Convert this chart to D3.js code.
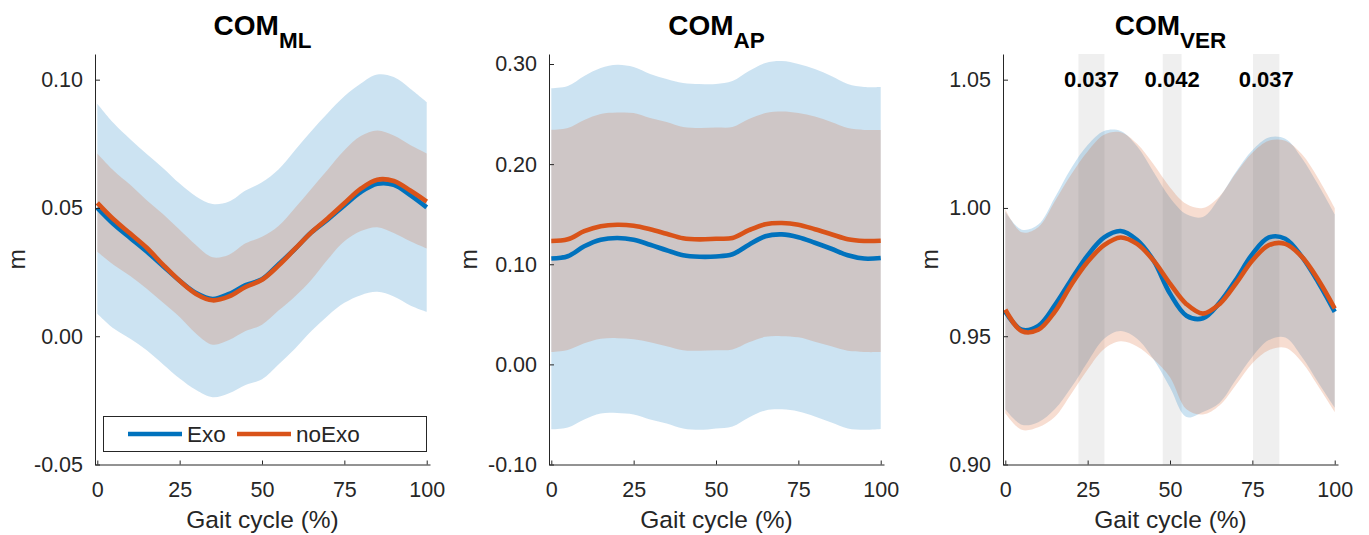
<!DOCTYPE html>
<html>
<head>
<meta charset="utf-8">
<script src="https://cdn.jsdelivr.net/npm/d3@7"></script>
<style>
  body { margin: 0; background: #fff; }
  svg { display: block; font-family: "Liberation Sans", Arial, Helvetica, sans-serif; }
</style>
</head>
<body>
<script>
// gait cycle samples (%)
const gait = [0, 5, 10, 15, 20, 25, 30, 35, 40, 45, 50, 55, 60, 65, 70, 75, 80, 85, 90, 95, 100];

// COM medio-lateral (m)
const mlExoMean   = [0.0500, 0.0436, 0.0383, 0.0330, 0.0273, 0.0216, 0.0168, 0.0145, 0.0165, 0.0199, 0.0222, 0.0280, 0.0340, 0.0405, 0.0455, 0.0510, 0.0562, 0.0594, 0.0590, 0.0550, 0.0502];
const mlExoUpper  = [0.0906, 0.0830, 0.0768, 0.0710, 0.0655, 0.0595, 0.0545, 0.0515, 0.0525, 0.0568, 0.0600, 0.0650, 0.0725, 0.0800, 0.0870, 0.0935, 0.0985, 0.1020, 0.1010, 0.0965, 0.0913];
const mlExoLower  = [0.0088, 0.0030, -0.0010, -0.0055, -0.0110, -0.0165, -0.0210, -0.0238, -0.0222, -0.0190, -0.0168, -0.0110, -0.0049, 0.0020, 0.0080, 0.0130, 0.0160, 0.0173, 0.0155, 0.0120, 0.0095];
const mlNoExoMean  = [0.0520, 0.0455, 0.0400, 0.0345, 0.0278, 0.0216, 0.0165, 0.0140, 0.0155, 0.0192, 0.0220, 0.0275, 0.0340, 0.0405, 0.0460, 0.0518, 0.0575, 0.0610, 0.0605, 0.0568, 0.0525];
const mlNoExoUpper = [0.0712, 0.0645, 0.0590, 0.0530, 0.0475, 0.0415, 0.0355, 0.0308, 0.0318, 0.0362, 0.0388, 0.0430, 0.0500, 0.0575, 0.0650, 0.0725, 0.0780, 0.0802, 0.0782, 0.0745, 0.0712];
const mlNoExoLower = [0.0329, 0.0278, 0.0235, 0.0185, 0.0130, 0.0075, 0.0010, -0.0033, -0.0015, 0.0020, 0.0045, 0.0100, 0.0155, 0.0220, 0.0300, 0.0370, 0.0410, 0.0425, 0.0402, 0.0370, 0.0342];

// COM antero-posterior (m)
const apExoMean   = [0.1057, 0.1080, 0.1180, 0.1245, 0.1262, 0.1245, 0.1195, 0.1140, 0.1090, 0.1075, 0.1078, 0.1100, 0.1195, 0.1280, 0.1298, 0.1270, 0.1215, 0.1155, 0.1090, 0.1057, 0.1063];
const apExoUpper  = [0.2757, 0.2780, 0.2880, 0.2960, 0.2993, 0.2970, 0.2900, 0.2850, 0.2810, 0.2800, 0.2800, 0.2830, 0.2930, 0.3010, 0.3030, 0.3000, 0.2950, 0.2880, 0.2800, 0.2770, 0.2770];
const apExoLower  = [-0.0648, -0.0630, -0.0550, -0.0490, -0.0485, -0.0500, -0.0550, -0.0590, -0.0640, -0.0654, -0.0640, -0.0620, -0.0530, -0.0460, -0.0449, -0.0470, -0.0520, -0.0580, -0.0640, -0.0654, -0.0645];
const apNoExoMean  = [0.1233, 0.1250, 0.1330, 0.1380, 0.1395, 0.1385, 0.1350, 0.1305, 0.1260, 0.1249, 0.1255, 0.1262, 0.1340, 0.1400, 0.1412, 0.1395, 0.1350, 0.1300, 0.1250, 0.1233, 0.1235];
const apNoExoUpper = [0.2342, 0.2360, 0.2440, 0.2500, 0.2515, 0.2510, 0.2460, 0.2420, 0.2370, 0.2360, 0.2365, 0.2370, 0.2450, 0.2510, 0.2525, 0.2510, 0.2475, 0.2420, 0.2360, 0.2342, 0.2342];
const apNoExoLower = [0.0123, 0.0143, 0.0210, 0.0255, 0.0262, 0.0250, 0.0220, 0.0180, 0.0140, 0.0136, 0.0140, 0.0148, 0.0220, 0.0275, 0.0282, 0.0270, 0.0226, 0.0180, 0.0135, 0.0123, 0.0123];

// COM vertical (m)
const verExoMean   = [0.9595, 0.9525, 0.9540, 0.9620, 0.9720, 0.9815, 0.9885, 0.9910, 0.9875, 0.9795, 0.9666, 0.9580, 0.9570, 0.9630, 0.9720, 0.9820, 0.9885, 0.9880, 0.9810, 0.9710, 0.9595];
const verExoUpper  = [0.9985, 0.9915, 0.9935, 1.0040, 1.0155, 1.0245, 1.0300, 1.0300, 1.0240, 1.0140, 1.0040, 0.9975, 0.9965, 1.0040, 1.0140, 1.0225, 1.0275, 1.0270, 1.0195, 1.0090, 0.9975];
const verExoLower  = [0.9215, 0.9155, 0.9165, 0.9215, 0.9300, 0.9400, 0.9490, 0.9520, 0.9490, 0.9410, 0.9300, 0.9185, 0.9205, 0.9240, 0.9330, 0.9420, 0.9485, 0.9495, 0.9420, 0.9320, 0.9222];
const verNoExoMean  = [0.9604, 0.9520, 0.9525, 0.9595, 0.9700, 0.9790, 0.9855, 0.9885, 0.9860, 0.9795, 0.9705, 0.9625, 0.9588, 0.9625, 0.9705, 0.9795, 0.9855, 0.9860, 0.9810, 0.9720, 0.9608];
const verNoExoUpper = [0.9995, 0.9905, 0.9925, 1.0025, 1.0130, 1.0220, 1.0285, 1.0295, 1.0250, 1.0170, 1.0080, 1.0015, 1.0000, 1.0045, 1.0135, 1.0215, 1.0262, 1.0262, 1.0210, 1.0115, 1.0000];
const verNoExoLower = [0.9200, 0.9135, 0.9145, 0.9185, 0.9275, 0.9370, 0.9450, 0.9480, 0.9460, 0.9410, 0.9340, 0.9215, 0.9195, 0.9230, 0.9310, 0.9395, 0.9445, 0.9455, 0.9400, 0.9305, 0.9205];

// significant regions in COM_VER (gait %) and their p-values
const sigStart  = [22.2, 47.8, 75.2];
const sigEnd    = [30.1, 53.5, 83.2];
const sigLabels = ["0.037", "0.042", "0.037"];

const xTicks = [0, 25, 50, 75, 100];
const mlTicks  = [-0.05, 0.00, 0.05, 0.10];
const apTicks  = [-0.10, 0.00, 0.10, 0.20, 0.30];
const verTicks = [0.90, 0.95, 1.00, 1.05];

const seriesNames = ["Exo", "noExo"];
const seriesColors = ["#0072BD", "#D95319"];

const W = 1369, H = 535;
const plotTop = 54, plotBottom = 464.5, plotW = 335;

const panels = [
  {left: 95,   sub: "ML",  domain: [-0.05, 0.11], ticks: mlTicks, ylabOff: 70,
   exo: [mlExoMean, mlExoLower, mlExoUpper], noexo: [mlNoExoMean, mlNoExoLower, mlNoExoUpper], legend: true},
  {left: 549,  sub: "AP",  domain: [-0.10, 0.31], ticks: apTicks, ylabOff: 72,
   exo: [apExoMean, apExoLower, apExoUpper], noexo: [apNoExoMean, apNoExoLower, apNoExoUpper]},
  {left: 1003, sub: "VER", domain: [0.90, 1.06], ticks: verTicks, ylabOff: 65,
   exo: [verExoMean, verExoLower, verExoUpper], noexo: [verNoExoMean, verNoExoLower, verNoExoUpper], sig: true}
];

const fmt = d3.formatLocale({decimal: ".", thousands: ",", grouping: [3], currency: ["", ""], minus: "-"}).format(".2f");
const axisColor = "#262626";

const svg = d3.select("body").append("svg").attr("width", W).attr("height", H);

panels.forEach(p => {
  const g = svg.append("g");
  const x = d3.scaleLinear().domain([-0.7, 101]).range([p.left, p.left + plotW]);
  const y = d3.scaleLinear().domain(p.domain).range([plotBottom, plotTop]);

  // significance bars
  if (p.sig) {
    g.selectAll("rect.sig").data(sigStart).enter().append("rect")
      .attr("class", "sig")
      .attr("x", d => x(d))
      .attr("width", (d, i) => x(sigEnd[i]) - x(d))
      .attr("y", plotTop).attr("height", plotBottom - plotTop)
      .attr("fill", "#efefef");
  }

  const area = vals => d3.area()
    .x((d, i) => x(gait[i]))
    .y0((d, i) => y(vals[1][i]))
    .y1((d, i) => y(vals[2][i]))
    .curve(d3.curveCatmullRom)(gait);
  const line = vals => d3.line()
    .x((d, i) => x(gait[i]))
    .y((d, i) => y(vals[0][i]))
    .curve(d3.curveCatmullRom)(gait);

  const sets = [p.exo, p.noexo];
  sets.forEach((s, k) => {
    g.append("path").attr("d", area(s)).attr("fill", seriesColors[k]).attr("fill-opacity", 0.2);
  });
  sets.forEach((s, k) => {
    g.append("path").attr("d", line(s)).attr("fill", "none")
      .attr("stroke", seriesColors[k]).attr("stroke-width", 4.6);
  });

  if (p.sig) {
    g.selectAll("text.sig").data(sigLabels).enter().append("text")
      .attr("class", "sig")
      .attr("x", (d, i) => x((sigStart[i] + sigEnd[i]) / 2))
      .attr("y", y(1.0471))
      .attr("text-anchor", "middle")
      .attr("font-size", 22).attr("font-weight", "bold")
      .text(d => d);
  }

  // axes
  const ya = g.append("g").attr("transform", `translate(${p.left},0)`)
    .call(d3.axisLeft(y).tickValues(p.ticks).tickFormat(fmt).tickSizeInner(-5).tickSizeOuter(0).tickPadding(12));
  const xa = g.append("g").attr("transform", `translate(0,${plotBottom})`)
    .call(d3.axisBottom(x).tickValues(xTicks).tickFormat(d3.format("d")).tickSizeInner(-4).tickSizeOuter(0).tickPadding(17));
  [ya, xa].forEach(a => {
    a.select(".domain").attr("stroke", axisColor);
    a.selectAll(".tick line").attr("stroke", axisColor);
    a.selectAll(".tick text").attr("fill", axisColor).attr("font-size", 21.5)
      .attr("font-family", "Liberation Sans, Arial, sans-serif");
  });

  // title
  const cx = p.left + plotW / 2;
  const t = g.append("text").attr("x", cx).attr("y", 35).attr("text-anchor", "middle")
    .attr("font-weight", "bold").attr("fill", "#000");
  t.append("tspan").attr("font-size", 28).text("COM");
  t.append("tspan").attr("font-size", 22.5).attr("dy", 13).text(p.sub);

  // labels
  g.append("text").attr("x", cx).attr("y", 528).attr("text-anchor", "middle")
    .attr("font-size", 24.5).attr("fill", axisColor).text("Gait cycle (%)");
  g.append("text")
    .attr("transform", `translate(${p.left - p.ylabOff},${(plotTop + plotBottom) / 2}) rotate(-90)`)
    .attr("text-anchor", "middle").attr("font-size", 24.5).attr("fill", axisColor).text("m");

  // legend
  if (p.legend) {
    const lg = g.append("g");
    lg.append("rect").attr("x", 103.5).attr("y", 416.5).attr("width", 323).attr("height", 35)
      .attr("fill", "#fff").attr("stroke", axisColor).attr("stroke-width", 1);
    const lx = [128, 237];
    seriesNames.forEach((n, k) => {
      lg.append("line").attr("x1", lx[k]).attr("x2", lx[k] + 54).attr("y1", 434).attr("y2", 434)
        .attr("stroke", seriesColors[k]).attr("stroke-width", 4.6);
      lg.append("text").attr("x", lx[k] + 59).attr("y", 434).attr("dy", "0.35em")
        .attr("font-size", 22.5).attr("fill", axisColor).text(n);
    });
  }
});
</script>
</body>
</html>
